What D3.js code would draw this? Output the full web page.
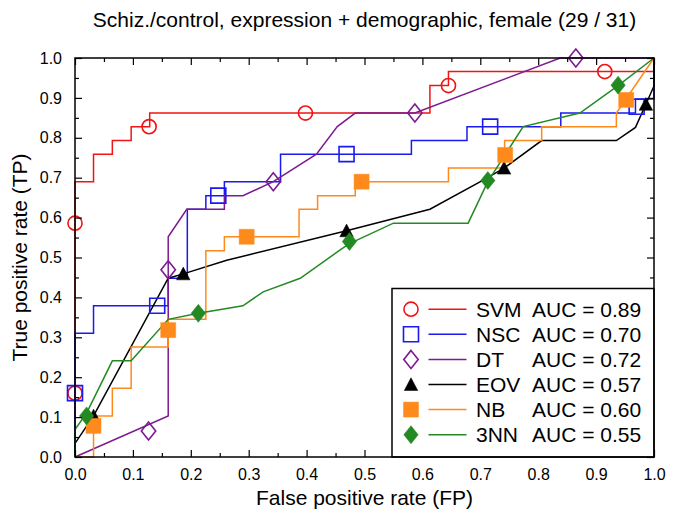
<!DOCTYPE html>
<html>
<head>
<meta charset="utf-8">
<script src="https://cdn.jsdelivr.net/npm/d3@7"></script>
<style>
  body { margin: 0; background: #fff; }
  svg text { font-family: "Liberation Sans", Arial, Helvetica, sans-serif; fill: #000; }
</style>
</head>
<body>
<div id="graph"></div>
<script>
/*
    ROC curves, one per classifier
*/
var title = "Schiz./control, expression + demographic, female (29 / 31)"
var xLabel = "False positive rate (FP)"
var yLabel = "True positive rate (TP)"

var methods = ["SVM", "NSC", "DT", "EOV", "NB", "3NN"]
var aucValues = ["0.89", "0.70", "0.72", "0.57", "0.60", "0.55"]
var majorTicks = [0, 0.1, 0.2, 0.3, 0.4, 0.5, 0.6, 0.7, 0.8, 0.9, 1.0]
var minorTicks = [0.05, 0.15, 0.25, 0.35, 0.45, 0.55, 0.65, 0.75, 0.85, 0.95]

// curves as [FP, TP]
var svmCurve = [[0,0],[0,0.69],[0.032,0.69],[0.032,0.759],[0.0645,0.759],[0.0645,0.793],
    [0.097,0.793],[0.097,0.828],[0.129,0.828],[0.129,0.862],[0.613,0.862],[0.613,0.931],
    [0.645,0.931],[0.645,0.966],[1,0.966],[1,1]]
var nscCurve = [[0,0],[0,0.31],[0.032,0.31],[0.032,0.379],[0.161,0.379],[0.161,0.448],
    [0.194,0.448],[0.194,0.621],[0.226,0.621],[0.226,0.655],[0.258,0.655],[0.258,0.69],
    [0.355,0.69],[0.355,0.759],[0.581,0.759],[0.581,0.793],[0.677,0.793],[0.677,0.828],
    [0.839,0.828],[0.839,0.862],[0.968,0.862],[0.968,0.897],[1,0.897],[1,1]]
var dtCurve = [[0,0],[0.161,0.103],[0.161,0.552],[0.193,0.621],[0.258,0.621],[0.258,0.655],
    [0.29,0.655],[0.3425,0.69],[0.417,0.759],[0.453,0.828],[0.484,0.862],[0.587,0.862],
    [0.838,1],[1,1]]
var eovCurve = [[0,0],[0,0.034],[0.032,0.103],[0.161,0.448],[0.187,0.459],[0.262,0.493],
    [0.469,0.567],[0.613,0.621],[0.705,0.694],[0.741,0.724],[0.806,0.793],[0.935,0.793],
    [0.968,0.826],[0.986,0.884],[1,0.93],[1,1]]
var nbCurve = [[0,0],[0.032,0],[0.032,0.103],[0.0645,0.103],[0.0645,0.172],[0.097,0.172],
    [0.097,0.276],[0.161,0.276],[0.161,0.345],[0.226,0.345],[0.226,0.517],[0.258,0.517],
    [0.258,0.552],[0.387,0.552],[0.387,0.621],[0.419,0.621],[0.419,0.655],[0.484,0.655],
    [0.484,0.69],[0.645,0.69],[0.645,0.724],[0.742,0.724],[0.742,0.793],[0.806,0.793],
    [0.806,0.828],[0.935,0.828],[0.935,0.862],[1,1]]
var knnCurve = [[0,0],[0,0.069],[0.02,0.11],[0.0645,0.241],[0.097,0.241],[0.161,0.345],
    [0.213,0.36],[0.29,0.379],[0.325,0.414],[0.389,0.448],[0.458,0.519],[0.474,0.535],
    [0.55,0.586],[0.679,0.586],[0.713,0.69],[0.774,0.828],[0.872,0.862],[0.938,0.931],[1,1]]

// marker positions along each curve
var svmMarks = [[0,0.16],[0,0.586],[0.128,0.828],[0.398,0.862],[0.645,0.931],[0.915,0.966]]
var nscMarks = [[0,0.16],[0.142,0.379],[0.2475,0.655],[0.469,0.759],[0.717,0.828],[0.97,0.878]]
var dtMarks = [[0.127,0.065],[0.161,0.469],[0.3425,0.69],[0.587,0.862],[0.865,1]]
var eovMarks = [[0.032,0.103],[0.187,0.459],[0.469,0.567],[0.741,0.724],[0.986,0.884]]
var nbMarks = [[0.032,0.078],[0.161,0.318],[0.2965,0.552],[0.495,0.69],[0.743,0.757],[0.952,0.895]]
var knnMarks = [[0.02,0.103],[0.213,0.36],[0.474,0.54],[0.713,0.693],[0.938,0.932]]

var series = [
    { name: methods[0], auc: aucValues[0], curve: svmCurve, marks: svmMarks, color: "#f01414", shape: "circle", filled: false },
    { name: methods[1], auc: aucValues[1], curve: nscCurve, marks: nscMarks, color: "#1a1aee", shape: "square", filled: false },
    { name: methods[2], auc: aucValues[2], curve: dtCurve, marks: dtMarks, color: "#7d1a91", shape: "diamond", filled: false },
    { name: methods[3], auc: aucValues[3], curve: eovCurve, marks: eovMarks, color: "#000000", shape: "triangle", filled: true },
    { name: methods[4], auc: aucValues[4], curve: nbCurve, marks: nbMarks, color: "#ff8a1c", shape: "square", filled: true },
    { name: methods[5], auc: aucValues[5], curve: knnCurve, marks: knnMarks, color: "#238a23", shape: "diamond", filled: true }
]

/*
    Dimensions
*/
var margin = {top: 58, right: 31, bottom: 59, left: 75},
    width = 685 - margin.left - margin.right,
    height = 516 - margin.top - margin.bottom;

var root = d3.select("#graph").append("svg")
    .attr("width", 685)
    .attr("height", 516)

var svg = root.append("g")
    .attr("transform", "translate(" + margin.left + "," + margin.top + ")")

var x = d3.scaleLinear().domain([0, 1]).range([0, width]),
    y = d3.scaleLinear().domain([0, 1]).range([height, 0]);

// marker path, centred on 0,0
function markerPath(shape, s) {
    var p = d3.path()
    if (shape == "circle") {
        p.arc(0, 0, s * 0.47, 0, 2 * Math.PI)
    } else if (shape == "square") {
        p.rect(-s / 2, -s / 2, s, s)
    } else if (shape == "diamond") {
        p.moveTo(0, -s * 0.6); p.lineTo(s * 0.48, 0); p.lineTo(0, s * 0.6); p.lineTo(-s * 0.48, 0); p.closePath()
    } else if (shape == "triangle") {
        p.moveTo(0, -s * 0.45); p.lineTo(s * 0.45, s * 0.4); p.lineTo(-s * 0.45, s * 0.4); p.closePath()
    }
    return p.toString()
}

var line = d3.line()
    .x(function (d) { return x(d[0]) })
    .y(function (d) { return y(d[1]) })

// curves
series.forEach(function (s) {
    svg.append("path")
        .attr("d", line(s.curve))
        .attr("fill", "none")
        .attr("stroke", s.color)
        .attr("stroke-width", 1.5)
})

// markers
series.forEach(function (s) {
    svg.selectAll(null)
        .data(s.marks)
        .enter()
        .append("path")
        .attr("transform", function (d) { return "translate(" + x(d[0]) + "," + y(d[1]) + ")" })
        .attr("d", markerPath(s.shape, 15))
        .attr("fill", s.filled ? s.color : "none")
        .attr("stroke", s.color)
        .attr("stroke-width", s.filled ? 0.5 : 1.6)
})

// axes, ticks inward on all sides
function styleAxis(g) {
    g.select(".domain").remove()
    g.selectAll("line").attr("stroke", "#000").attr("stroke-width", 1.2)
    g.selectAll("text").style("font-size", "16px")
        .style("font-family", "'Liberation Sans', Arial, Helvetica, sans-serif")
}

svg.append("g")
    .attr("transform", "translate(0," + height + ")")
    .call(d3.axisBottom(x).tickValues(majorTicks).tickFormat(d3.format(".1f")).tickSize(-7).tickPadding(12))
    .call(styleAxis)
svg.append("g")
    .attr("transform", "translate(0," + height + ")")
    .call(d3.axisBottom(x).tickValues(minorTicks).tickFormat("").tickSize(-4))
    .call(styleAxis)
svg.append("g")
    .call(d3.axisTop(x).tickValues(majorTicks).tickFormat("").tickSize(-7))
    .call(styleAxis)
svg.append("g")
    .call(d3.axisTop(x).tickValues(minorTicks).tickFormat("").tickSize(-4))
    .call(styleAxis)
svg.append("g")
    .call(d3.axisLeft(y).tickValues(majorTicks).tickFormat(d3.format(".1f")).tickSize(-7).tickPadding(13))
    .call(styleAxis)
svg.append("g")
    .call(d3.axisLeft(y).tickValues(minorTicks).tickFormat("").tickSize(-4))
    .call(styleAxis)
svg.append("g")
    .attr("transform", "translate(" + width + ",0)")
    .call(d3.axisRight(y).tickValues(majorTicks).tickFormat("").tickSize(-7))
    .call(styleAxis)
svg.append("g")
    .attr("transform", "translate(" + width + ",0)")
    .call(d3.axisRight(y).tickValues(minorTicks).tickFormat("").tickSize(-4))
    .call(styleAxis)

// legend
var legend = svg.append("g")
    .attr("transform", "translate(" + (width - 262) + "," + (height - 168.5) + ")")

legend.append("rect")
    .attr("width", 262)
    .attr("height", 168.5)
    .attr("fill", "#fff")
    .attr("stroke", "#000")
    .attr("stroke-width", 1.5)

var rows = legend.selectAll("g.row")
    .data(series)
    .enter()
    .append("g")
    .attr("class", "row")
    .attr("transform", function (d, i) { return "translate(0," + (20.7 + i * 25.1) + ")" })

rows.append("path")
    .attr("transform", "translate(19,0)")
    .attr("d", function (d) { return markerPath(d.shape, 15) })
    .attr("fill", function (d) { return d.filled ? d.color : "none" })
    .attr("stroke", function (d) { return d.color })
    .attr("stroke-width", function (d) { return d.filled ? 0.5 : 1.6 })

rows.append("line")
    .attr("x1", 36.5).attr("x2", 74.5)
    .attr("stroke", function (d) { return d.color })
    .attr("stroke-width", 1.5)

rows.append("text")
    .attr("x", 84)
    .attr("y", 7.5)
    .style("font-size", "21px")
    .text(function (d) { return d.name })

rows.append("text")
    .attr("x", 140)
    .attr("y", 7.5)
    .style("font-size", "21px")
    .text(function (d) { return "AUC = " + d.auc })

// frame
svg.append("rect")
    .attr("width", width)
    .attr("height", height)
    .attr("fill", "none")
    .attr("stroke", "#000")
    .attr("stroke-width", 1.5)

// titles
root.append("text")
    .attr("x", margin.left + width / 2)
    .attr("y", 27)
    .attr("text-anchor", "middle")
    .style("font-size", "21px")
    .text(title)

root.append("text")
    .attr("x", margin.left + width / 2)
    .attr("y", 505)
    .attr("text-anchor", "middle")
    .style("font-size", "21px")
    .text(xLabel)

root.append("text")
    .attr("transform", "translate(27," + (margin.top + height / 2) + ") rotate(-90)")
    .attr("text-anchor", "middle")
    .style("font-size", "21px")
    .text(yLabel)
</script>
</body>
</html>
